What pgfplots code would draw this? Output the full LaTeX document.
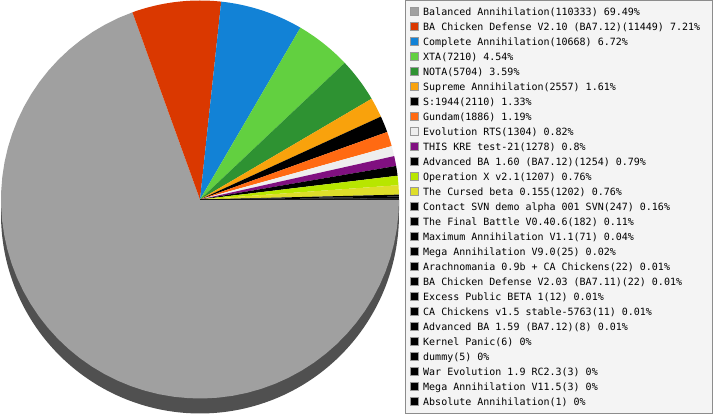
\documentclass[border=0pt]{standalone}
\usepackage{pgfplots}
\pgfplotsset{compat=1.18}
\usepackage{fontspec}
\setmonofont{DejaVu Sans Mono}
\definecolor{cBal}{HTML}{A0A0A0}
\definecolor{cBAC}{HTML}{DA3800}
\definecolor{cCom}{HTML}{1282D6}
\definecolor{cXTA}{HTML}{62D040}
\definecolor{cNOT}{HTML}{2E9232}
\definecolor{cSup}{HTML}{F9A20C}
\definecolor{cGun}{HTML}{FF6A12}
\definecolor{cEvo}{HTML}{EEEEEE}
\definecolor{cKRE}{HTML}{801080}
\definecolor{cOpX}{HTML}{B8E600}
\definecolor{cCur}{HTML}{DEDE2A}
\definecolor{cSide}{HTML}{505050}
\definecolor{cLegBg}{HTML}{F4F4F4}
\definecolor{cLegBd}{HTML}{8C8C8C}
\definecolor{cSwBd}{HTML}{999999}

\def\total{158780}
\def\cx{200}
\def\cy{215.5}
\def\rr{199}
\gdef\cum{0}
\newcommand{\slice}[2]{%
  \edef\sa{\fpeval{round(-360*\cum/\total,4)}}%
  \edef\newcum{\fpeval{\cum+#1}}%
  \edef\sb{\fpeval{round(-360*\newcum/\total,4)}}%
  \xdef\cum{\newcum}%
  \edef\temp{\noexpand\addplot[fill=#2, draw=none, domain=\sb:\sa, samples=60]
    ({\cx+\rr*cos(x)},{\cy+\rr*sin(x)}) -- (axis cs:\cx,\cy) -- cycle;}%
  \temp
}
\newcommand{\legrow}[3]{% index, color, text
  \edef\ly{\fpeval{415-16-15*#1}}%
  \edef\temp{\noexpand\draw[fill=#2, draw=cSwBd, line width=0.8pt]
     (axis cs:410.5,\ly+0.5) rectangle (axis cs:418.5,\ly+8.5);
     \noexpand\node[anchor=base west, inner sep=0pt, font=\noexpand\ttfamily\noexpand\fontsize{10pt}{12pt}\noexpand\selectfont]
     at (axis cs:423,\ly) {\unexpanded{#3}};}%
  \temp
}

\begin{document}
\begin{tikzpicture}
\path (0,0) rectangle (713pt,415pt);
\begin{axis}[
  at={(0,0)}, anchor=south west,
  x=1pt, y=1pt, scale only axis,
  xmin=0, xmax=713, ymin=0, ymax=415,
  hide axis, clip=false,
]
% side of the 3D pie
\addplot[fill=cSide, draw=none, domain=180:360, samples=120]
  ({\cx+\rr*cos(x)},{\cy-15+\rr*sin(x)}) -- (axis cs:\cx+\rr,\cy) -- (axis cs:\cx-\rr,\cy) -- cycle;
% slices (counts)
\slice{110333}{cBal}
\slice{11449}{cBAC}
\slice{10668}{cCom}
\slice{7210}{cXTA}
\slice{5704}{cNOT}
\slice{2557}{cSup}
\slice{2110}{black}
\slice{1886}{cGun}
\slice{1304}{cEvo}
\slice{1278}{cKRE}
\slice{1254}{black}
\slice{1207}{cOpX}
\slice{1202}{cCur}
\slice{247}{black}
\slice{182}{black}
\slice{71}{black}
\slice{25}{black}
\slice{22}{black}
\slice{22}{black}
\slice{12}{black}
\slice{11}{black}
\slice{8}{black}
\slice{6}{black}
\slice{5}{black}
\slice{3}{black}
\slice{3}{black}
\slice{1}{black}
% legend
\draw[fill=cLegBg, draw=cLegBd, line width=1pt] (axis cs:405.5,1.5) rectangle (axis cs:712.5,414.5);
\legrow{0}{cBal}{Balanced Annihilation(110333) 69.49\%}
\legrow{1}{cBAC}{BA Chicken Defense V2.10 (BA7.12)(11449) 7.21\%}
\legrow{2}{cCom}{Complete Annihilation(10668) 6.72\%}
\legrow{3}{cXTA}{XTA(7210) 4.54\%}
\legrow{4}{cNOT}{NOTA(5704) 3.59\%}
\legrow{5}{cSup}{Supreme Annihilation(2557) 1.61\%}
\legrow{6}{black}{S:1944(2110) 1.33\%}
\legrow{7}{cGun}{Gundam(1886) 1.19\%}
\legrow{8}{cEvo}{Evolution RTS(1304) 0.82\%}
\legrow{9}{cKRE}{THIS KRE test-21(1278) 0.8\%}
\legrow{10}{black}{Advanced BA 1.60 (BA7.12)(1254) 0.79\%}
\legrow{11}{cOpX}{Operation X v2.1(1207) 0.76\%}
\legrow{12}{cCur}{The Cursed beta 0.155(1202) 0.76\%}
\legrow{13}{black}{Contact SVN demo alpha 001 SVN(247) 0.16\%}
\legrow{14}{black}{The Final Battle V0.40.6(182) 0.11\%}
\legrow{15}{black}{Maximum Annihilation V1.1(71) 0.04\%}
\legrow{16}{black}{Mega Annihilation V9.0(25) 0.02\%}
\legrow{17}{black}{Arachnomania 0.9b + CA Chickens(22) 0.01\%}
\legrow{18}{black}{BA Chicken Defense V2.03 (BA7.11)(22) 0.01\%}
\legrow{19}{black}{Excess Public BETA 1(12) 0.01\%}
\legrow{20}{black}{CA Chickens v1.5 stable-5763(11) 0.01\%}
\legrow{21}{black}{Advanced BA 1.59 (BA7.12)(8) 0.01\%}
\legrow{22}{black}{Kernel Panic(6) 0\%}
\legrow{23}{black}{dummy(5) 0\%}
\legrow{24}{black}{War Evolution 1.9 RC2.3(3) 0\%}
\legrow{25}{black}{Mega Annihilation V11.5(3) 0\%}
\legrow{26}{black}{Absolute Annihilation(1) 0\%}
\end{axis}
\end{tikzpicture}
\end{document}
